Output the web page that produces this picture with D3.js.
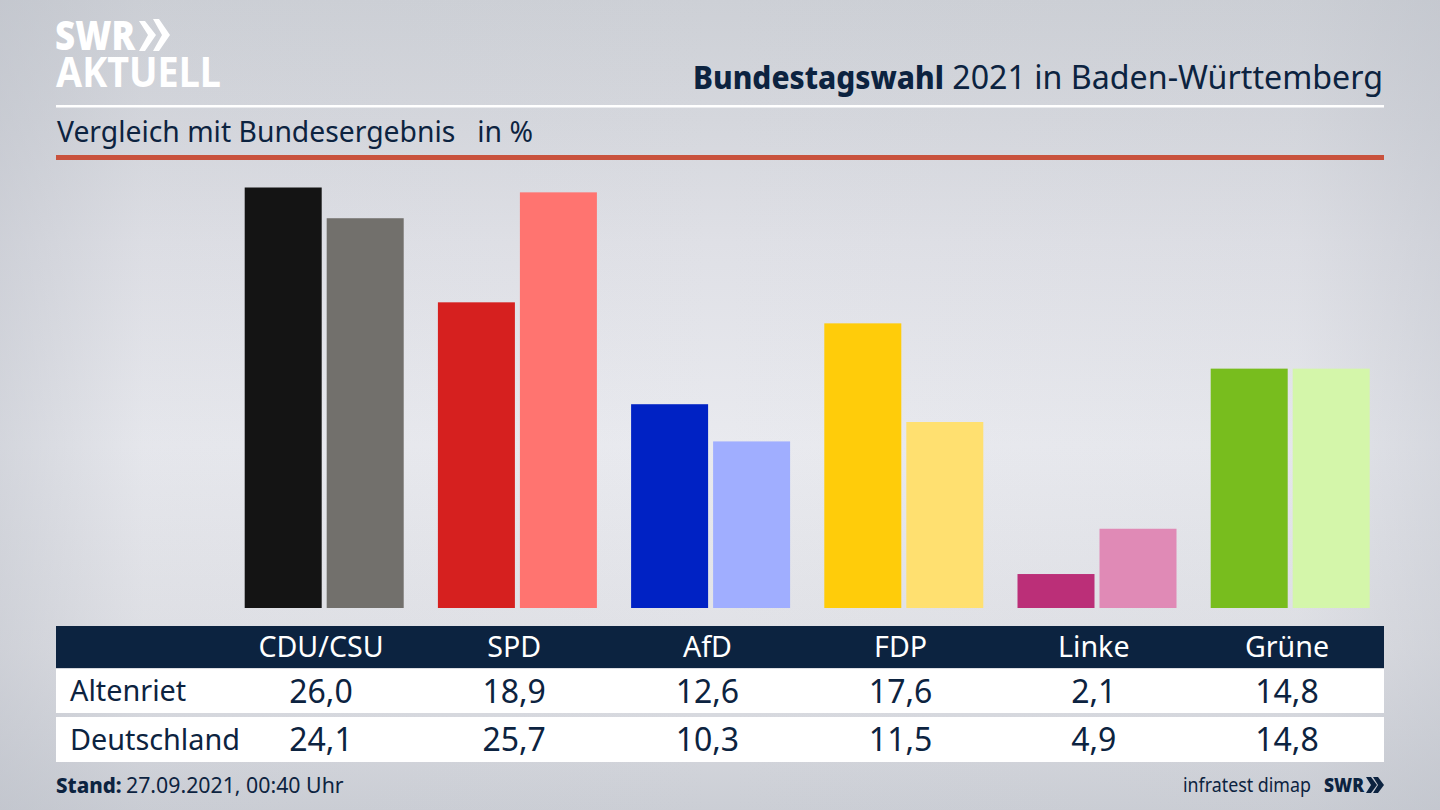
<!DOCTYPE html>
<html lang="de">
<head>
    <meta charset="UTF-8">
    <title>Bundestagswahl 2021 in Baden-Württemberg</title>
    <script src="https://d3js.org/d3.v7.min.js"></script>
    <style>
        body { margin: 0; background: #d8dae0; }
        svg { display: block; }
        text { font-family: "Noto Sans", sans-serif; fill: #0c2340; }
    </style>
</head>
<body>
    <svg id="chart" width="1440" height="810"></svg>
    <script>
        // Data
        const parties = ["CDU/CSU", "SPD", "AfD", "FDP", "Linke", "Grüne"];
        const altenriet = [26.0, 18.9, 12.6, 17.6, 2.1, 14.8];
        const deutschland = [24.1, 25.7, 10.3, 11.5, 4.9, 14.8];
        const rowNames = ["Altenriet", "Deutschland"];
        const coloursLocal = ["#141414", "#d6201f", "#0022c4", "#ffcc0a", "#bb2f78", "#78bd1e"];
        const coloursFederal = ["#72706c", "#ff7470", "#a0aeff", "#ffe070", "#e08ab6", "#d4f6aa"];

        const svg = d3.select("#chart");
        const navy = "#0c2340";
        const left = 56, right = 1384;
        const fmt = d3.formatLocale({ decimal: ",", thousands: ".", grouping: [3], currency: ["", "€"] }).format(".1f");

        // Background gradients
        const defs = svg.append("defs");
        const vert = defs.append("linearGradient").attr("id", "bgV").attr("x1", 0).attr("y1", 0).attr("x2", 0).attr("y2", 1);
        [[0, "#cdd0d6"], [0.15, "#d5d7dd"], [0.3, "#dfe0e6"], [0.55, "#e9eaef"], [0.8, "#e0e1e6"], [1, "#cbced5"]].forEach(s =>
            vert.append("stop").attr("offset", s[0]).attr("stop-color", s[1]));
        const side = defs.append("linearGradient").attr("id", "bgH");
        [[0, 0.45], [0.1, 0.08], [0.5, 0], [0.9, 0.08], [1, 0.4]].forEach(s =>
            side.append("stop").attr("offset", s[0]).attr("stop-color", "#b9bdc6").attr("stop-opacity", s[1]));
        svg.append("rect").attr("width", 1440).attr("height", 810).attr("fill", "url(#bgV)");
        svg.append("rect").attr("width", 1440).attr("height", 810).attr("fill", "url(#bgH)");

        // Scales
        const x = d3.scaleBand().domain(parties).range([224.4, 1383.6]);
        const barOffset = 3.2;
        const inner = d3.scaleBand().domain(["local", "federal"])
            .range([x.bandwidth() / 2 + barOffset - 79.5, x.bandwidth() / 2 + barOffset + 79.5]).paddingInner(0.061);
        const y = d3.scaleLinear().domain([0, 26]).range([608, 187.5]);

        // Logo
        const logo = svg.append("g").attr("class", "logo");
        logo.append("text").attr("x", 55).attr("y", 50).attr("font-size", 41).attr("font-weight", 900)
            .attr("textLength", 80).attr("lengthAdjust", "spacingAndGlyphs").style("fill", "#fff").text("SWR");
        logo.append("path").attr("fill", "#fff")
            .attr("d", "M139,21 h6 l11,14 l-11,16 h-6 l9,-16 z M153,19 h6 l11,16 l-11,16 h-6 l9,-16 z");
        logo.append("text").attr("x", 56).attr("y", 87).attr("font-size", 42).attr("font-weight", 700)
            .attr("textLength", 165).attr("lengthAdjust", "spacingAndGlyphs").style("fill", "#fff").text("AKTUELL");

        // Header
        svg.append("text").attr("x", 693).attr("y", 89).attr("font-size", 32).attr("font-weight", 800)
            .attr("textLength", 251).attr("lengthAdjust", "spacingAndGlyphs").text("Bundestagswahl");
        svg.append("text").attr("x", 1383).attr("y", 89).attr("text-anchor", "end").attr("font-size", 32.2)
            .text("2021 in Baden-Württemberg");
        svg.append("rect").attr("x", left).attr("y", 105).attr("width", right - left).attr("height", 2.5).attr("fill", "#fff");
        svg.append("text").attr("x", 57).attr("y", 142).attr("font-size", 28.3).style("white-space", "pre")
            .text("Vergleich mit Bundesergebnis   in %");
        svg.append("rect").attr("x", left).attr("y", 155).attr("width", right - left).attr("height", 5).attr("fill", "#c9523d");

        // Bars
        const groups = svg.selectAll("g.party").data(parties).enter().append("g")
            .attr("class", "party").attr("transform", d => `translate(${x(d)},0)`);
        [["local", altenriet, coloursLocal], ["federal", deutschland, coloursFederal]].forEach(([key, values, colours]) => {
            groups.append("rect")
                .attr("x", inner(key))
                .attr("width", inner.bandwidth())
                .attr("y", (d, i) => y(values[i]))
                .attr("height", (d, i) => y(0) - y(values[i]))
                .attr("fill", (d, i) => colours[i]);
        });

        // Table
        const rowTop = [669, 717], rowHeight = [44, 45];
        const nameBase = [700.5, 749.5], valueBase = [702.5, 751];
        svg.append("rect").attr("x", left).attr("y", 626).attr("width", right - left).attr("height", 42).attr("fill", navy);
        svg.selectAll("rect.row").data(rowNames).enter().append("rect").attr("class", "row")
            .attr("x", left).attr("y", (d, i) => rowTop[i]).attr("width", right - left).attr("height", (d, i) => rowHeight[i]).attr("fill", "#fff");
        const center = d => x(d) + x.bandwidth() / 2;
        svg.selectAll("text.head").data(parties).enter().append("text").attr("class", "head")
            .attr("x", center).attr("y", 657).attr("text-anchor", "middle").attr("font-size", 28.6)
            .style("fill", "#fff").text(d => d);
        rowNames.forEach((name, r) => {
            const vals = r === 0 ? altenriet : deutschland;
            svg.append("text").attr("x", 70).attr("y", nameBase[r]).attr("font-size", 28.8).text(name);
            svg.selectAll("text.v" + r).data(parties).enter().append("text").attr("class", "v" + r)
                .attr("x", center).attr("y", valueBase[r]).attr("text-anchor", "middle").attr("font-size", 32)
                .text((d, i) => fmt(vals[i]));
        });

        // Footer
        const stand = svg.append("text").attr("x", 56).attr("y", 793);
        stand.append("tspan").attr("font-size", 20.5).attr("font-weight", 800).text("Stand:");
        stand.append("tspan").attr("x", 126).attr("font-size", 21.3).text("27.09.2021, 00:40 Uhr");
        svg.append("text").attr("x", 1183).attr("y", 792).attr("font-size", 20)
            .attr("textLength", 128).attr("lengthAdjust", "spacingAndGlyphs").text("infratest dimap");
        svg.append("text").attr("x", 1324).attr("y", 792).attr("font-size", 20).attr("font-weight", 900)
            .attr("textLength", 40).attr("lengthAdjust", "spacingAndGlyphs").text("SWR");
        svg.append("path").attr("fill", navy)
            .attr("d", "M1366,777 h5 l6,8 l-6,8 h-5 l5,-8 z M1373,777 h5 l6,8 l-6,8 h-5 l5,-8 z");
    </script>
</body>
</html>
